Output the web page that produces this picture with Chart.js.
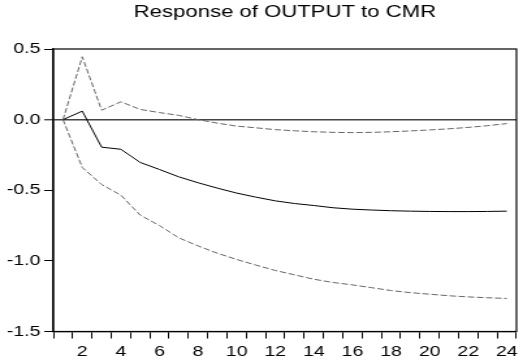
<!DOCTYPE html>
<html><head><meta charset="utf-8">
<script src="https://cdn.jsdelivr.net/npm/chart.js@4"></script>
<style>
html,body{margin:0;padding:0;background:#fff;overflow:hidden}
#wrap{position:absolute;left:0;top:0;width:402px;height:362px;transform:scaleX(1.301);transform-origin:0 0}
</style></head><body>
<div id="wrap"><canvas id="c"></canvas></div>
<script>
const periods = ['1','2','3','4','5','6','7','8','9','10','11','12','13','14','15','16','17','18','19','20','21','22','23','24'];
const impulse = [0, 0.06, -0.195, -0.21, -0.303, -0.353, -0.405, -0.447, -0.485, -0.52, -0.549, -0.575, -0.594, -0.608, -0.624, -0.634, -0.640, -0.645, -0.648, -0.650, -0.651, -0.651, -0.650, -0.648];
const upperBand = [0, 0.445, 0.067, 0.126, 0.072, 0.05, 0.03, 0.0, -0.025, -0.046, -0.058, -0.071, -0.079, -0.086, -0.09, -0.092, -0.090, -0.086, -0.080, -0.073, -0.065, -0.055, -0.043, -0.028];
const lowerBand = [0, -0.339, -0.459, -0.535, -0.676, -0.75, -0.837, -0.894, -0.946, -0.99, -1.03, -1.068, -1.099, -1.13, -1.153, -1.17, -1.19, -1.21, -1.225, -1.236, -1.247, -1.255, -1.261, -1.266];
const yMin = -1.5, yMax = 0.5, yStep = 0.5;
const titleText = 'Response of OUTPUT to CMR';
const FONT = "'Liberation Sans', Arial, sans-serif";

const framePlugin = {
  id: 'frame',
  afterDatasetsDraw(chart) {
    const {ctx, chartArea: a} = chart;
    ctx.save();
    ctx.strokeStyle = '#000';
    ctx.lineWidth = 1.2;
    ctx.strokeRect(a.left, a.top, a.right - a.left, a.bottom - a.top);
    ctx.restore();
  }
};

new Chart(document.getElementById('c'), {
  type: 'line',
  data: {
    labels: periods,
    datasets: [
      {data: upperBand, borderColor: '#666', borderWidth: 1, borderDash: [5, 2], pointRadius: 0, tension: 0, fill: false},
      {data: lowerBand, borderColor: '#666', borderWidth: 1, borderDash: [5, 2], pointRadius: 0, tension: 0, fill: false},
      {data: impulse, borderColor: '#000', borderWidth: 1, pointRadius: 0, tension: 0, fill: false}
    ]
  },
  options: {
    responsive: true,
    maintainAspectRatio: false,
    animation: false,
    layout: {padding: {left: 0, right: 1, top: 0, bottom: 0}},
    plugins: {
      legend: {display: false},
      tooltip: {enabled: false},
      title: {
        display: true, text: titleText, fullSize: false, color: '#000',
        font: {family: FONT, size: 17, weight: 'normal'},
        padding: {top: 2, bottom: 26.6}
      }
    },
    scales: {
      x: {
        type: 'category',
        offset: true,
        grid: {offset: true, drawOnChartArea: false, drawTicks: true, tickLength: 7, tickColor: '#000', tickWidth: 1},
        border: {display: true, color: '#000', width: 1.3},
        ticks: {
          autoSkip: false, maxRotation: 0, minRotation: 0, padding: 4, color: '#000',
          font: {family: FONT, size: 15},
          callback: (v, i) => (i % 2 === 1 ? periods[i] : '')
        },
        afterFit: s => { s.height = 30.5; }
      },
      y: {
        min: yMin, max: yMax,
        grid: {
          drawOnChartArea: true, drawTicks: true, tickLength: 7, tickColor: '#000', tickWidth: 1,
          color: c => (c.tick && c.tick.value === 0 ? '#444' : 'rgba(0,0,0,0)'),
          lineWidth: c => (c.tick && c.tick.value === 0 ? 1.6 : 1)
        },
        border: {display: true, color: '#000', width: 1.3},
        ticks: {
          stepSize: yStep, padding: 3, color: '#000',
          font: {family: FONT, size: 15},
          callback: v => Number(v).toFixed(1)
        },
        afterFit: s => { s.width = 41; }
      }
    }
  },
  plugins: [framePlugin]
});
</script>
</body></html>
